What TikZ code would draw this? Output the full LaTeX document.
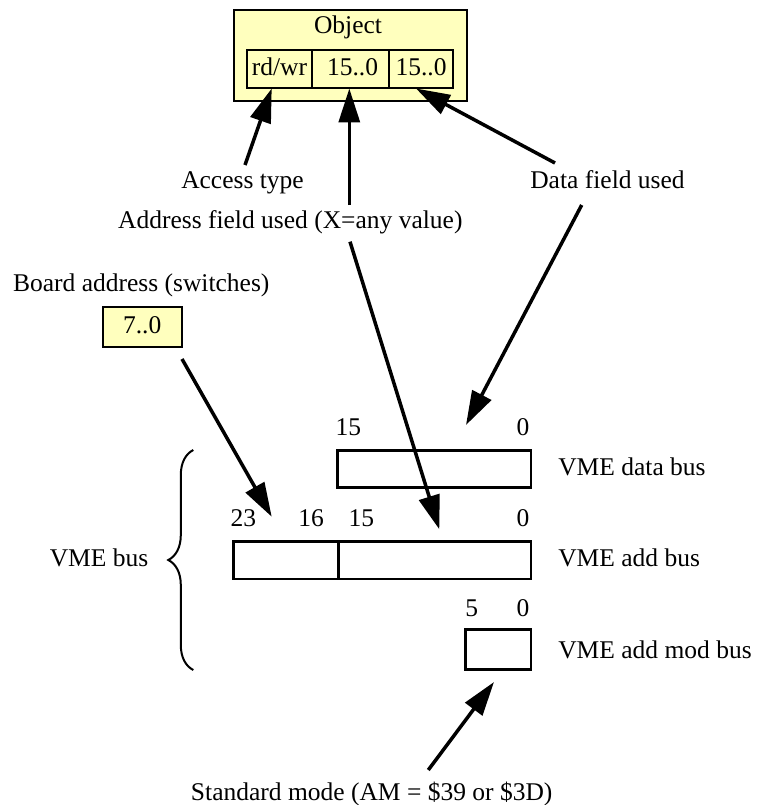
\documentclass[tikz,border=0pt]{standalone}
\usepackage{fontspec}
\setmainfont{Liberation Serif}
\usetikzlibrary{arrows.meta,decorations.pathreplacing}
\definecolor{objyellow}{RGB}{255,255,190}
\begin{document}
\begin{tikzpicture}[x=1pt,y=-1pt,
  every node/.style={font=\fontsize{25.5}{30}\selectfont, inner sep=0pt, outer sep=0pt},
  lbl/.style={anchor=base},
  ybox/.style={draw, line width=2.2pt, fill=objyellow},
  busbox/.style={draw, line width=2.5pt, fill=white},
  cell/.style={ybox, text height=17pt, text depth=3.5pt},
  ptr/.style={line width=3.5pt, -{Triangle[length=34pt,width=21pt]}},
  bracestyle/.style={line width=2pt, decorate, decoration={brace, amplitude=25pt, aspect=0.5}}
]
\useasboundingbox (0,0) rectangle (761,805);

% object box
\node[ybox, minimum width=233.3pt, minimum height=90.7pt] (obj) at (350.65,55.35) {};
\node[lbl] (objtitle) at (348,34) {Object};
\node[cell, minimum width=64.4pt, minimum height=38.3pt] (rdwr) at (279.5,69.15) {rd/wr};
\node[cell, minimum width=77.6pt, minimum height=38.3pt, text width=77.6pt, align=center] (addrf) at (350.5,69.15) {\hspace*{4pt}15..0};
\node[cell, minimum width=63.4pt, minimum height=38.3pt] (dataf) at (421,69.15) {15..0};

% labels
\node[lbl] (acc) at (242.5,188.3) {Access type};
\node[lbl] (addrlbl) at (290.3,228.3) {Address field used (X=any value)};
\node[lbl] (datalbl) at (607.5,188.3) {Data field used};
\node[lbl] (boardlbl) at (141.3,291.7) {Board address (switches)};
\node[cell, minimum width=79pt, minimum height=40.6pt] (board) at (142.2,327) {7..0};

% bus boxes
\node[busbox, minimum width=193.7pt, minimum height=37pt] (databus) at (434.15,469.2) {};
\node[busbox, minimum width=105pt, minimum height=37.3pt] (addhi) at (285.8,560.35) {};
\node[busbox, minimum width=192.7pt, minimum height=37.3pt] (addlo) at (434.65,560.35) {};
\node[busbox, minimum width=65.3pt, minimum height=40pt] (modbus) at (498.35,649.3) {};

% bit numbers
\node[lbl] (d15) at (348.3,435) {15};
\node[lbl] (d0) at (523,435) {0};
\node[lbl] (a23) at (243.3,526.7) {23};
\node[lbl] (a16) at (311,526.7) {16};
\node[lbl] (a15) at (361.3,526.7) {15};
\node[lbl] (a0) at (523,526.7) {0};
\node[lbl] (m5) at (471.7,616.7) {5};
\node[lbl] (m0) at (523,616.7) {0};

% bus names
\node[anchor=base west] (dbname) at (558.3,475) {VME data bus};
\node[anchor=base west] (abname) at (558.3,566.7) {VME add bus};
\node[anchor=base west] (mbname) at (558.3,658.3) {VME add mod bus};
\node[anchor=base east] (vmebus) at (148.3,566.7) {VME bus};
\node[lbl] (stdlbl) at (371.7,800) {Standard mode (AM = \$39 or \$3D)};

% brace
\coordinate (brbot) at (193.3,670);
\coordinate (brtop) at (193.3,450);
\draw[bracestyle] (brbot) -- (brtop);

% arrow end points
\coordinate (accS) at (245,165);
\coordinate (accT) at (271.7,88.5);
\coordinate (adrS) at (349.3,205);
\coordinate (adrT) at (349.3,88.5);
\coordinate (datS) at (555,163);
\coordinate (datT) at (416,88.5);
\coordinate (dat2S) at (581.7,205);
\coordinate (dat2T) at (466,425);
\coordinate (adr2S) at (350,241.7);
\coordinate (adr2T) at (439.3,529.3);
\coordinate (brdS) at (182,359);
\coordinate (brdT) at (271.7,516.7);
\coordinate (stdS) at (428.3,770);
\coordinate (stdT) at (494,682);

\draw[ptr] (accS) -- (accT);
\draw[ptr] (adrS) -- (adrT);
\draw[ptr] (datS) -- (datT);
\draw[ptr] (dat2S) -- (dat2T);
\draw[ptr] (adr2S) -- (adr2T);
\draw[ptr] (brdS) -- (brdT);
\draw[ptr] (stdS) -- (stdT);
\end{tikzpicture}
\end{document}
